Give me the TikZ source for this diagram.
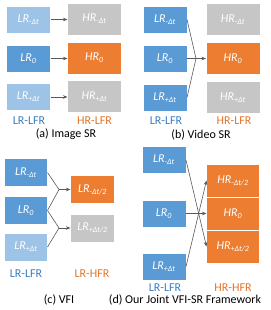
\documentclass[tikz,border=0pt]{standalone}
\usepackage{fontspec}
\setmainfont{Carlito}
\usetikzlibrary{arrows.meta}
\definecolor{dblue}{HTML}{5B9BD5}
\definecolor{lblue}{HTML}{9DC3E6}
\definecolor{orng}{HTML}{ED7D31}
\definecolor{gryb}{HTML}{C6C6C6}
\definecolor{bluetxt}{HTML}{3A7DC0}
\definecolor{orngtxt}{HTML}{E2732A}
\definecolor{lncol}{HTML}{595959}
\newcommand{\bx}[2]{\textit{#1}\textsubscript{\textit{#2}}}
\begin{document}
\begin{tikzpicture}[x=1pt,y=-1pt,
  box/.style={draw=white,line width=0.8pt,text=white,font=\fontsize{12}{12}\selectfont,inner sep=0pt,outer sep=0pt},
  lrbox/.style={box,minimum width=44pt,minimum height=27pt},
  hrbox/.style={box,minimum width=54pt,minimum height=32pt},
  lab/.style={font=\fontsize{12}{12}\selectfont,inner sep=0pt},
  captext/.style={font=\fontsize{12}{12}\selectfont,inner sep=0pt,text=black},
  arr/.style={draw=lncol,line width=0.6pt,-{Stealth[length=4.5pt,width=3.5pt]}},
  ln/.style={draw=lncol,line width=0.6pt}]
\useasboundingbox (0,0) rectangle (270,310);
% ---------- (a) Image SR
\node[lrbox,fill=lblue] (a1) at (28.5,19.5) {\bx{LR}{-Δt}};
\node[lrbox,fill=dblue] (a2) at (28.5,58.5) {\bx{LR}{0}};
\node[lrbox,fill=lblue] (a3) at (28.5,97) {\bx{LR}{+Δt}};
\node[hrbox,fill=gryb] (ah1) at (94.5,19) {\bx{HR}{-Δt}};
\node[hrbox,fill=orng] (ah2) at (94.5,58) {\bx{HR}{0}};
\node[hrbox,fill=gryb] (ah3) at (94.5,96.5) {\bx{HR}{+Δt}};
\draw[arr] (a1) -- (a1 -| ah1.west);
\draw[arr] (a2) -- (a2 -| ah2.west);
\draw[arr] (a3) -- (a3 -| ah3.west);
\node[lab,text=bluetxt] (al) at (29,120.5) {LR-LFR};
\node[lab,text=orngtxt] (ahl) at (94.5,120.5) {HR-LFR};
\node[captext] (ac) at (66,134.5) {(a) Image SR};
% ---------- (b) Video SR
\node[lrbox,fill=dblue] (b1) at (165,19.5) {\bx{LR}{-Δt}};
\node[lrbox,fill=dblue] (b2) at (165,58.5) {\bx{LR}{0}};
\node[lrbox,fill=dblue] (b3) at (165,97.5) {\bx{LR}{+Δt}};
\node[hrbox,fill=gryb] (bh1) at (233,19.5) {\bx{HR}{-Δt}};
\node[hrbox,fill=orng] (bh2) at (233,58.5) {\bx{HR}{0}};
\node[hrbox,fill=gryb] (bh3) at (233,97.5) {\bx{HR}{+Δt}};
\coordinate (bj) at (196,58.5);
\draw[ln] (b1.east) -- (bj);
\draw[ln] (b3.east) -- (bj);
\draw[arr] (b2.east) -- (bh2.west);
\node[lab,text=bluetxt] (bl) at (166,120.5) {LR-LFR};
\node[lab,text=orngtxt] (bhl) at (234,120.5) {HR-LFR};
\node[captext] (bc) at (201,134.5) {(b) Video SR};
% ---------- (c) VFI
\node[lrbox,fill=dblue,minimum width=43pt,minimum height=28pt] (c1) at (26,172.5) {\bx{LR}{-Δt}};
\node[lrbox,fill=dblue,minimum width=43pt,minimum height=28pt] (c2) at (26,210.5) {\bx{LR}{0}};
\node[lrbox,fill=lblue,minimum width=43pt,minimum height=28pt] (c3) at (26,247) {\bx{LR}{+Δt}};
\node[lrbox,fill=orng,minimum width=44pt,minimum height=28pt] (ch1) at (92.5,189.5) {\bx{LR}{-Δt/2}};
\node[lrbox,fill=gryb,minimum width=44pt,minimum height=28pt] (ch2) at (92.5,228) {\bx{LR}{+Δt/2}};
\coordinate (cj1) at (59,189.5);
\coordinate (cj2) at (59,228);
\draw[ln] (c1.east) -- (cj1);
\draw[ln] (c2.east) -- (cj1);
\draw[ln] (c2.east) -- (cj2);
\draw[ln] (c3.east) -- (cj2);
\draw[arr] (cj1) -- (ch1.west);
\draw[arr] (cj2) -- (ch2.west);
\node[lab,text=bluetxt] (cl) at (26,273.5) {LR-LFR};
\node[lab,text=orngtxt] (chl) at (92,273.5) {LR-HFR};
\node[captext] (cc) at (59,300) {(c) VFI};
% ---------- (d) Joint VFI-SR
\node[lrbox,fill=dblue] (d1) at (164,160) {\bx{LR}{-Δt}};
\node[lrbox,fill=dblue] (d2) at (164,213.5) {\bx{LR}{0}};
\node[lrbox,fill=dblue] (d3) at (164,266.5) {\bx{LR}{+Δt}};
\node[hrbox,fill=orng,minimum width=53pt,minimum height=33pt] (dh1) at (233,180.5) {\bx{HR}{-Δt/2}};
\node[hrbox,fill=orng,minimum width=53pt,minimum height=33pt] (dh2) at (233,213.5) {\bx{HR}{0}};
\node[hrbox,fill=orng,minimum width=53pt,minimum height=33pt] (dh3) at (233,246.5) {\bx{HR}{+Δt/2}};
\draw[arr] (d1.east) -- (dh3.west);
\draw[arr] (d3.east) -- (dh1.west);
\draw[arr] (d2.east) -- (dh2.west);
\node[lab,text=bluetxt] (dl) at (165,287.5) {LR-LFR};
\node[lab,text=orngtxt] (dhl) at (233,287.5) {HR-HFR};
\node[captext] (dc) at (185,300) {(d) Our Joint VFI-SR Framework};
\end{tikzpicture}
\end{document}
